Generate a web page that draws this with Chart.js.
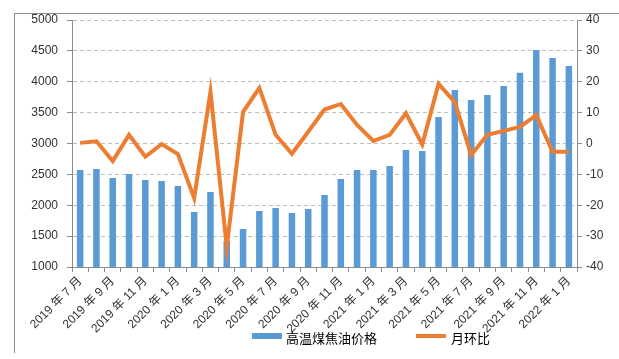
<!DOCTYPE html>
<html>
<head>
<meta charset="utf-8">
<script src="https://cdn.jsdelivr.net/npm/chart.js@4"></script>
<style>
  html, body { margin: 0; padding: 0; background: #fff; }
  #wrap { position: relative; width: 619px; height: 359px; }
  #frame { position: absolute; left: 14px; top: 13px; width: 605px; height: 339px;
           border-left: 1px solid #8c8c8c; border-top: 1px solid #8c8c8c; pointer-events: none; }
  .leg { position: absolute; top: 328px; font: 13px "Noto Sans CJK SC", sans-serif; color: #000; }
  .sw { position: absolute; }
</style>
</head>
<body>
<div id="wrap">
  <canvas id="c" width="619" height="359"></canvas>
  <div id="frame"></div>
  <div class="sw" style="left:252px;top:333px;width:30px;height:6px;background:#5B9BD5"></div>
  <div class="leg" style="left:286px">高温煤焦油价格</div>
  <div class="sw" style="left:416px;top:334px;width:30px;height:4px;background:#ED7D31"></div>
  <div class="leg" style="left:451px">月环比</div>
</div>
<script>
// months 2019-07 .. 2022-01
const months = [
  '2019 年 7 月', '2019 年 8 月', '2019 年 9 月', '2019 年 10 月', '2019 年 11 月', '2019 年 12 月',
  '2020 年 1 月', '2020 年 2 月', '2020 年 3 月', '2020 年 4 月', '2020 年 5 月', '2020 年 6 月',
  '2020 年 7 月', '2020 年 8 月', '2020 年 9 月', '2020 年 10 月', '2020 年 11 月', '2020 年 12 月',
  '2021 年 1 月', '2021 年 2 月', '2021 年 3 月', '2021 年 4 月', '2021 年 5 月', '2021 年 6 月',
  '2021 年 7 月', '2021 年 8 月', '2021 年 9 月', '2021 年 10 月', '2021 年 11 月', '2021 年 12 月',
  '2022 年 1 月'
];
const price = [
  2570, 2587, 2441, 2506, 2409, 2393, 2312, 1891, 2215, 1420, 1615, 1907,
  1955, 1874, 1940, 2166, 2425, 2571, 2571, 2636, 2895, 2879, 3429, 3866,
  3704, 3785, 3931, 4147, 4514, 4385, 4255
];
const mom = [
  0.2, 0.7, -5.7, 2.8, -4.3, -0.2, -3.4, -17.7, 16.7, -33.4, 10.2, 18.0,
  2.8, -3.3, 3.8, 11.0, 12.8, 6.0, 0.8, 2.8, 9.8, -0.3, 19.3, 13.4,
  -3.7, 2.8, 4.1, 5.4, 9.2, -2.7, -2.7
];
const leftTicks = [1000, 5000, 500];
const rightTicks = [-40, 40, 10];

const font = { family: '"Liberation Sans", "Noto Sans CJK SC", sans-serif', size: 12 };
const axisGray = '#8c8c8c';

new Chart(document.getElementById('c').getContext('2d'), {
  data: {
    labels: months,
    datasets: [{
      type: 'line',
      label: '月环比',
      data: mom,
      yAxisID: 'y1',
      borderColor: '#ED7D31',
      borderWidth: 4,
      pointRadius: 0,
      tension: 0,
      order: 0
    }, {
      type: 'bar',
      label: '高温煤焦油价格',
      data: price,
      yAxisID: 'y',
      backgroundColor: '#5B9BD5',
      categoryPercentage: 1,
      barPercentage: 0.4,
      order: 1
    }]
  },
  options: {
    responsive: false,
    animation: false,
    layout: { padding: { top: 20, left: 0, right: 0, bottom: 0 } },
    plugins: { legend: { display: false }, tooltip: { enabled: false } },
    scales: {
      x: {
        offset: true,
        grid: { drawOnChartArea: false, offset: true, tickLength: 5, tickColor: axisGray },
        border: { color: axisGray },
        ticks: {
          autoSkip: false, minRotation: 45, maxRotation: 45, padding: 2,
          color: '#333', font: font,
          callback: (v, i) => (i % 2 === 0 ? months[i] : '')
        },
        afterFit: s => { s.height = 92; }
      },
      y: {
        position: 'left',
        min: leftTicks[0], max: leftTicks[1],
        ticks: { stepSize: leftTicks[2], padding: 9, color: '#333', font: font, callback: v => String(v) },
        grid: { color: '#c0c0c0', tickColor: axisGray, tickLength: 5, tickBorderDash: [] },
        border: { color: axisGray, dash: [4, 3] },
        afterFit: s => { s.width = 72; }
      },
      y1: {
        position: 'right',
        min: rightTicks[0], max: rightTicks[1],
        ticks: { stepSize: rightTicks[2], padding: 4, color: '#333', font: font, callback: v => String(v) },
        grid: { drawOnChartArea: false, tickColor: axisGray, tickLength: 5 },
        border: { color: axisGray },
        afterFit: s => { s.width = 42; }
      }
    }
  }
});
</script>
</body>
</html>
